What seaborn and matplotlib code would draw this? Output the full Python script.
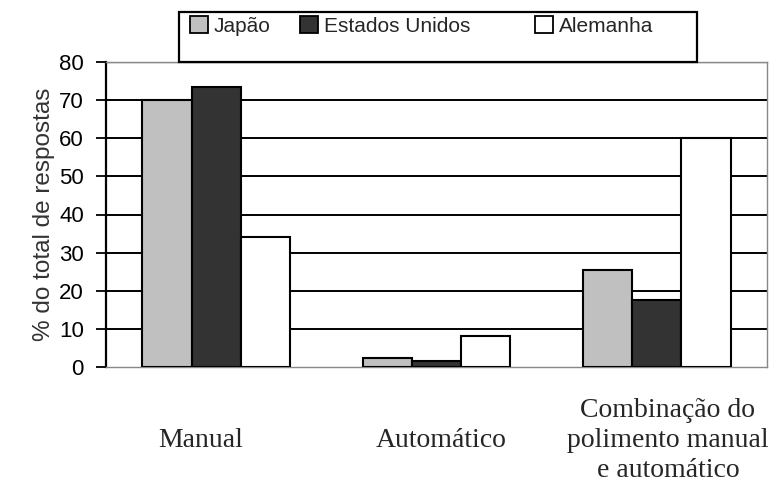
import pandas as pd
import matplotlib
matplotlib.use("Agg")
import matplotlib.pyplot as plt
import seaborn as sns
from matplotlib.patches import Rectangle

# values
categorias = ["Manual", "Automático", "Combinação do\npolimento manual\ne automático"]
paises = ["Japão", "Estados Unidos", "Alemanha"]
japao = [70, 2.3, 25.5]
eua = [73.5, 1.6, 17.5]
alemanha = [34, 8.2, 60]
cores = ["#c0c0c0", "#333333", "#ffffff"]

df = pd.DataFrame({
    "categoria": categorias * 3,
    "pais": [p for p in paises for _ in categorias],
    "valor": japao + eua + alemanha,
})

sns.set_style("white")
plt.rcParams["font.family"] = ["Liberation Sans", "DejaVu Sans"]

W, H = 782, 488
fig = plt.figure(figsize=(W / 100, H / 100), dpi=100)
ax = fig.add_axes([106 / W, 1 - 367 / H, 661 / W, 305 / H])

sns.barplot(data=df, x="categoria", y="valor", hue="pais", order=categorias,
            hue_order=paises, palette=cores, edgecolor="black", linewidth=1.5,
            width=0.67, ax=ax, zorder=3)

ax.set_ylim(0, 80)
ax.set_yticks(range(0, 81, 10))
for y in range(10, 81, 10):
    ax.axhline(y, color="black" if y != 80 else "#888888",
               lw=1.4 if y != 80 else 1.0, zorder=1)

# labels sit a little off the group centres in the original
ax.set_xticks([-0.07, 1.02, 2.05])
ax.set_xticklabels(categorias)
ax.set_xlim(-0.5, 2.5)

ax.tick_params(axis="y", direction="out", length=7, width=1.3, pad=9,
               labelsize=16, colors="black", left=True)
ax.tick_params(axis="x", length=0, pad=53)
for t in ax.get_xticklabels():
    t.set_fontfamily(["Liberation Serif", "DejaVu Serif"])
    t.set_fontsize(20)
    t.set_va("center")
    t.set_linespacing(1.26)

ax.set_xlabel("")
ax.set_ylabel("% do total de respostas", fontsize=17.5, color="#333333", labelpad=3)

for s in ["top", "right", "bottom"]:
    ax.spines[s].set_color("#888888")
    ax.spines[s].set_linewidth(1)
ax.spines["left"].set_color("black")
ax.spines["left"].set_linewidth(1.6)

# legend box sitting on top of the plot
ax.get_legend().remove()
box = Rectangle((179 / W, 1 - 62 / H), (697 - 179) / W, 50 / H,
                transform=fig.transFigure, fill=False, edgecolor="black", lw=1.6)
fig.patches.append(box)
for cor, nome, x0 in zip(cores, paises, [188, 298, 533]):
    h = Rectangle((0, 0), 1, 1, facecolor=cor, edgecolor="black", lw=1.3)
    fig.legend([h], [nome], loc="upper left", bbox_to_anchor=(x0 / W, 1 - 14 / H),
               frameon=False, fontsize=15, handlelength=0.85, handleheight=0.85,
               handletextpad=0.3, borderaxespad=0, borderpad=0.1)

fig.savefig("out.png", dpi=100, facecolor="white")
